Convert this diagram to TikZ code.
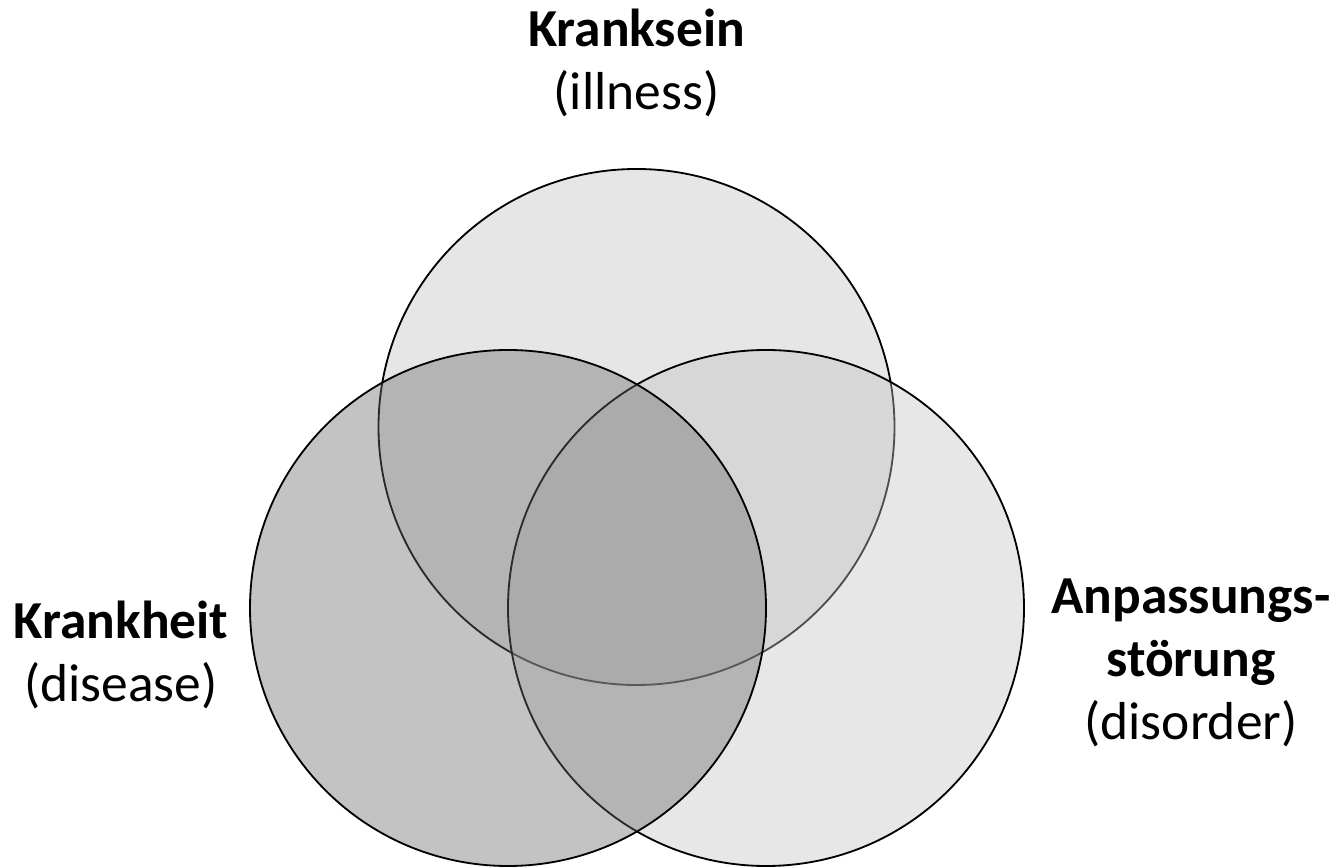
\documentclass[tikz,border=0pt]{standalone}
\usepackage{fontspec}
\setmainfont{Carlito}

\definecolor{illnessgray}{RGB}{192,192,192}
\definecolor{disordergray}{RGB}{195,195,195}
\definecolor{diseasegray}{RGB}{105,105,105}

\tikzset{
    venn circle/.style={draw=black, line width=1.3pt, fill opacity=0.4},
    venn label/.style={align=center, anchor=base, font=\fontsize{38}{45}\selectfont},
}

\begin{document}
\begin{tikzpicture}[x=0.025cm, y=0.025cm]
    \useasboundingbox (0,0) rectangle (1344,868);

    % Circles: illness (top), disorder (right), disease (left, on top of the others)
    \draw[venn circle, fill=illnessgray] (636.5,441) circle[radius=258];
    \draw[venn circle, fill=disordergray] (766,260) circle[radius=258];
    \draw[venn circle, fill=diseasegray] (508,260) circle[radius=258];

    % Labels (anchored at the baseline of the last line)
    \node[venn label] (illness) at (636.5,758) {\textbf{Kranksein}\\(illness)};
    \node[venn label] (disease) at (121,166) {\textbf{Krankheit}\\(disease)};
    \node[venn label] (disorder) at (1191,128) {\textbf{Anpassungs-}\\\textbf{störung}\\(disorder)};

\end{tikzpicture}
\end{document}
